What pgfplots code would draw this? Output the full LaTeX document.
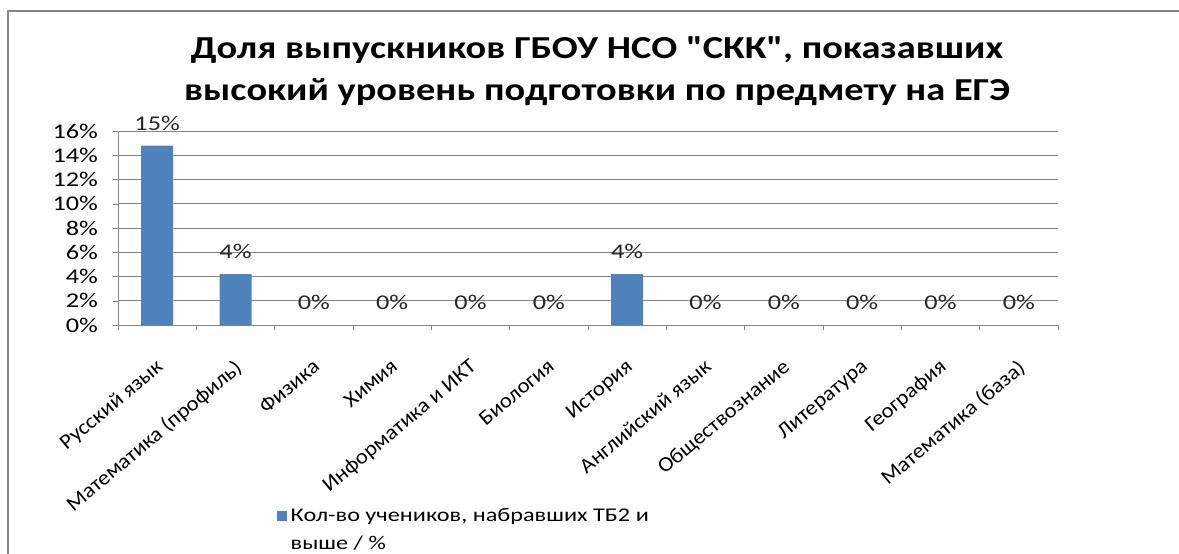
\documentclass[border=0pt]{standalone}
\usepackage{fontspec}
\setmainfont{Carlito}
\newfontfamily\widefont{Carlito}[FakeStretch=1.25]
\newfontfamily\labelfont{Carlito}[FakeStretch=1.08]
\newfontfamily\titlefont{Carlito}[FakeStretch=1.2]
\usepackage{pgfplots}
\pgfplotsset{compat=1.18}
\definecolor{barblue}{HTML}{4F81BD}
\definecolor{gridgray}{HTML}{868686}

\begin{document}
\begin{tikzpicture}
% 1 px of the reference = 0.5pt
\clip (0,0) rectangle (589.5pt,276.5pt);
\draw[gridgray, line width=1pt] (4pt,-10pt) rectangle (600pt,271pt);

\node[font=\titlefont\bfseries\fontsize{16}{21}\selectfont, align=center] at (298.5pt,241pt)
  {Доля выпускников ГБОУ НСО "СКК", показавших\\высокий уровень подготовки по предмету на ЕГЭ};

\begin{axis}[
    at={(59pt,114pt)}, anchor=south west,
    scale only axis,
    width=470pt, height=97pt,
    ybar, bar width=16pt,
    xmin=-0.5, xmax=11.5,
    ymin=0, ymax=16,
    ytick={0,2,...,16},
    yticklabel={\pgfmathprintnumber{\tick}\%},
    xtick={0,...,11},
    xticklabels={Русский язык, Математика (профиль), Физика, Химия, Информатика и ИКТ, Биология, История, Английский язык, Обществознание, Литература, География, Математика (база)},
    minor xtick={-0.5,0.5,...,11.5},
    major x tick style={draw=none},
    tick align=outside,
    major tick length=2.5pt, minor tick length=2.5pt,
    tick style={gridgray},
    axis line style={gridgray},
    axis x line*=bottom, axis y line*=left,
    ymajorgrids, grid style={gridgray, line width=0.5pt},
    yticklabel style={font=\widefont\fontsize{10.5}{12}\selectfont, xshift=-4pt},
    xticklabel style={font=\labelfont\fontsize{10.5}{12}\selectfont, xshift=-0.7pt, yshift=-9pt, rotate=40, anchor=north east},
    /pgf/number format/assume math mode=true,
    nodes near coords={\pgfmathprintnumber[fixed,precision=0]{\pgfplotspointmeta}\%},
    every node near coord/.append style={font=\widefont\fontsize{10.5}{12}\selectfont, color=black!85, yshift=4pt},
    legend style={at={(0.162,-0.9)}, anchor=north west, draw=none, fill=none,
        font=\widefont\fontsize{9.7}{14}\selectfont, cells={align=left}},
    legend image code/.code={\fill[barblue] (0pt,4.5pt) rectangle (5pt,9.5pt);},
]
\addplot[fill=barblue, draw=none] coordinates {
    (0,14.8) (1,4.2) (2,0) (3,0) (4,0) (5,0) (6,4.2) (7,0) (8,0) (9,0) (10,0) (11,0)
};
\addlegendentry{Кол-во учеников, набравших ТБ2 и\\выше / \%}
\end{axis}
\end{tikzpicture}
\end{document}
